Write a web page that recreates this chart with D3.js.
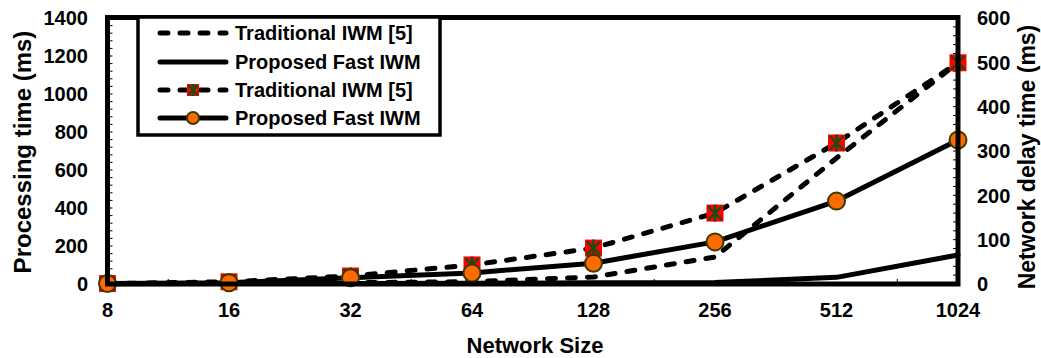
<!DOCTYPE html>
<html lang="en">
<head>
  <meta charset="UTF-8" />
  <title>Processing time and network delay vs network size</title>
  <script src="https://d3js.org/d3.v7.min.js"></script>
  <style>
    body { margin: 0; background: white; }
    svg text { font-family: "Liberation Sans", Arial, sans-serif; font-weight: bold; fill: #000; }
  </style>
</head>
<body>
<svg id="chart" width="1041" height="358"></svg>
<script>
// Data
const categories = ["8", "16", "32", "64", "128", "256", "512", "1024"];
const tradProcessing = [2, 5, 7, 12, 37, 142, 663, 1165];   // left axis, dashed
const fastProcessing = [1, 2, 3, 4, 6, 8, 35, 153];         // left axis, solid
const tradDelay = [1, 5, 18, 43, 81, 160, 318, 499];        // right axis, dashed + square
const fastDelay = [1, 3, 14, 25, 47, 95, 187, 325];         // right axis, solid + circle
const leftTicks = [0, 200, 400, 600, 800, 1000, 1200, 1400];
const rightTicks = [0, 100, 200, 300, 400, 500, 600];
const legendLabels = ["Traditional IWM [5]", "Proposed Fast IWM", "Traditional IWM [5]", "Proposed Fast IWM"];

const svg = d3.select("#chart");
const plotL = 107.5, plotR = 958, plotT = 18, plotB = 284;

const x = d3.scalePoint().domain(categories).range([plotL, plotR]);
const yL = d3.scaleLinear().domain([0, 1400]).range([plotB, plotT]);
const yR = d3.scaleLinear().domain([0, 600]).range([plotB, plotT]);

const DASH = "8,12";
const fs = "20px";

// minor ticks
const minorL = d3.range(0, 1401, 1400 / 35);
svg.append("g").selectAll("line").data(minorL).join("line")
  .attr("x1", plotL).attr("x2", plotL + 5)
  .attr("y1", d => yL(d)).attr("y2", d => yL(d))
  .attr("stroke", "#000").attr("stroke-width", 1);
const minorR = d3.range(0, 601, 20);
svg.append("g").selectAll("line").data(minorR).join("line")
  .attr("x1", plotR - 5).attr("x2", plotR)
  .attr("y1", d => yR(d)).attr("y2", d => yR(d))
  .attr("stroke", "#000").attr("stroke-width", 1);
const step = x.step();
svg.append("g").selectAll("line").data(categories.slice(0, -1)).join("line")
  .attr("x1", d => x(d) + step / 2).attr("x2", d => x(d) + step / 2)
  .attr("y1", plotB).attr("y2", plotB - 5)
  .attr("stroke", "#000").attr("stroke-width", 1);

// lines
const lineL = d3.line().x((d, i) => x(categories[i])).y(d => yL(d));
const lineR = d3.line().x((d, i) => x(categories[i])).y(d => yR(d));

function drawLine(data, gen, dashed) {
  svg.append("path")
    .attr("d", gen(data))
    .attr("fill", "none")
    .attr("stroke", "#000")
    .attr("stroke-width", 5)
    .attr("stroke-linecap", "round")
    .attr("stroke-linejoin", "round")
    .attr("stroke-dasharray", dashed ? DASH : null);
}
drawLine(tradProcessing, lineL, true);
drawLine(fastProcessing, lineL, false);
drawLine(tradDelay, lineR, true);

function squareMarker(g, cx, cy, s) {
  const h = s / 2;
  g.append("rect").attr("x", cx - h).attr("y", cy - h).attr("width", s).attr("height", s)
    .attr("fill", "#ff0000");
  const k = h * 0.8;
  g.append("path")
    .attr("d", `M${cx - k},${cy - k}L${cx + k},${cy + k}M${cx + k},${cy - k}L${cx - k},${cy + k}M${cx},${cy - h}L${cx},${cy + h}`)
    .attr("stroke", "#1f4a12").attr("stroke-width", 2.5);
}
function circleMarker(g, cx, cy, r) {
  g.append("circle").attr("cx", cx).attr("cy", cy).attr("r", r)
    .attr("fill", "#ff6a00").attr("stroke", "#3a3a00").attr("stroke-width", 2);
}

const sqG = svg.append("g");
tradDelay.forEach((d, i) => squareMarker(sqG, x(categories[i]), yR(d), 17));
drawLine(fastDelay, lineR, false);
const ciG = svg.append("g");
fastDelay.forEach((d, i) => circleMarker(ciG, x(categories[i]), yR(d), 8.5));

// frame
svg.append("rect")
  .attr("x", plotL).attr("y", plotT - 0.5)
  .attr("width", plotR - plotL).attr("height", plotB - plotT + 0.5)
  .attr("fill", "none").attr("stroke", "#000").attr("stroke-width", 5);

// tick labels
svg.append("g").selectAll("text").data(leftTicks).join("text")
  .attr("x", 88).attr("y", d => yL(d)).attr("dy", "0.36em")
  .attr("text-anchor", "end").style("font-size", fs).text(d => d);
svg.append("g").selectAll("text").data(rightTicks).join("text")
  .attr("x", 977).attr("y", d => yR(d)).attr("dy", "0.36em")
  .attr("text-anchor", "start").style("font-size", fs).text(d => d);
svg.append("g").selectAll("text").data(categories).join("text")
  .attr("x", d => x(d)).attr("y", 310).attr("dy", "0.36em")
  .attr("text-anchor", "middle").style("font-size", fs).text(d => d);

// axis titles
svg.append("text").attr("transform", "translate(31,152) rotate(-90)")
  .attr("text-anchor", "middle").style("font-size", "24px").text("Processing time (ms)");
svg.append("text").attr("transform", "translate(1035,157) rotate(-90)")
  .attr("text-anchor", "middle").style("font-size", "23px").text("Network delay time (ms)");
svg.append("text").attr("x", 535).attr("y", 353)
  .attr("text-anchor", "middle").style("font-size", "22px").text("Network Size");

// legend
const lg = svg.append("g");
lg.append("rect").attr("x", 138).attr("y", 17).attr("width", 302).attr("height", 118)
  .attr("fill", "white").attr("stroke", "#000").attr("stroke-width", 3.5);
const rowY = [33, 62, 90, 118];
rowY.forEach((ry, i) => {
  const dashed = i % 2 === 0;
  lg.append("line").attr("x1", 160).attr("x2", 226).attr("y1", ry).attr("y2", ry)
    .attr("stroke", "#000").attr("stroke-width", 5).attr("stroke-linecap", "round")
    .attr("stroke-dasharray", dashed ? DASH : null);
  if (i === 2) squareMarker(lg, 193, ry, 12);
  if (i === 3) circleMarker(lg, 193, ry, 6);
  lg.append("text").attr("x", 235).attr("y", ry).attr("dy", "0.36em")
    .style("font-size", fs).text(legendLabels[i]);
});
</script>
</body>
</html>
